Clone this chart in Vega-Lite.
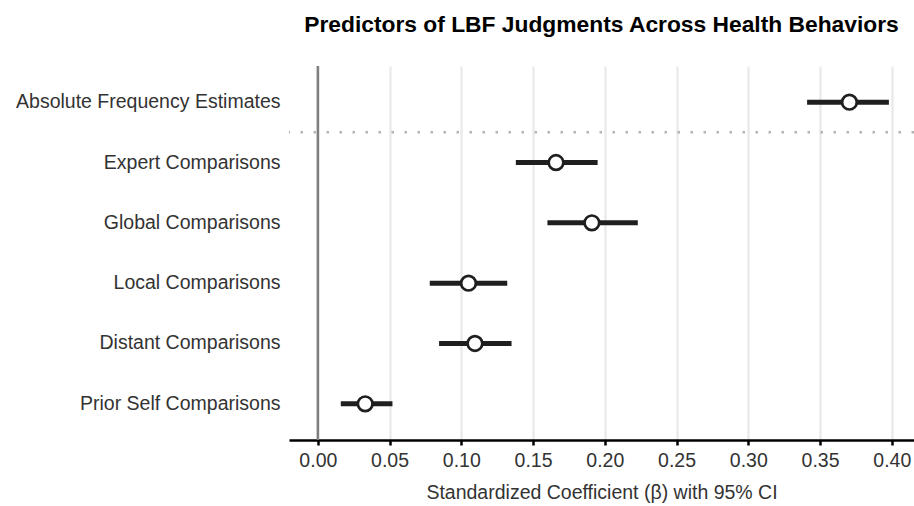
{
  "$schema": "https://vega.github.io/schema/vega-lite/v6.json",
  "autosize": {"type": "none"},
  "padding": {"left": 289, "top": 66, "right": 0, "bottom": 66},
  "width": 625,
  "height": 374,
  "background": "white",
  "config": {
    "view": {"stroke": null},
    "font": "Liberation Sans"
  },
  "title": {
    "text": "Predictors of LBF Judgments Across Health Behaviors",
    "font": "Liberation Sans",
    "fontSize": 22.8,
    "fontWeight": "bold",
    "color": "#000000",
    "anchor": "middle",
    "offset": 28
  },
  "datasets": {
    "est": [
      {"label": "Absolute Frequency Estimates", "beta": 0.3705, "lo": 0.341, "hi": 0.398},
      {"label": "Expert Comparisons", "beta": 0.166, "lo": 0.138, "hi": 0.195},
      {"label": "Global Comparisons", "beta": 0.191, "lo": 0.160, "hi": 0.223},
      {"label": "Local Comparisons", "beta": 0.105, "lo": 0.078, "hi": 0.132},
      {"label": "Distant Comparisons", "beta": 0.1095, "lo": 0.0845, "hi": 0.135},
      {"label": "Prior Self Comparisons", "beta": 0.033, "lo": 0.016, "hi": 0.052}
    ],
    "sep": [{"label": "Absolute Frequency Estimates"}],
    "zero": [{"x": 0}]
  },
  "layer": [
    {
      "data": {"name": "zero"},
      "mark": {"type": "rule", "color": "#7f7f7f", "strokeWidth": 2.5},
      "encoding": {
        "x": {
          "field": "x", "type": "quantitative",
          "scale": {"domain": [-0.0201, 0.4155], "nice": false, "zero": false},
          "axis": {
            "values": [0, 0.05, 0.1, 0.15, 0.2, 0.25, 0.3, 0.35, 0.4],
            "format": ".2f",
            "title": "Standardized Coefficient (β) with 95% CI",
            "titleFont": "Liberation Sans",
            "titleFontSize": 19.5,
            "titleFontWeight": "normal",
            "titleColor": "#333333",
            "titlePadding": 14,
            "labelFont": "Liberation Sans",
            "labelFontSize": 19.5,
            "labelColor": "#333333",
            "labelPadding": 6,
            "ticks": true,
            "tickSize": 5,
            "tickWidth": 2.5,
            "tickColor": "#000000",
            "domain": true,
            "domainColor": "#000000",
            "domainWidth": 2.5,
            "grid": true,
            "gridColor": "#ebebeb",
            "gridWidth": 2.5
          }
        }
      }
    },
    {
      "data": {"name": "sep"},
      "mark": {"type": "rule", "color": "#b3b3b3", "strokeWidth": 2.5, "strokeDash": [2.5, 10.5]},
      "encoding": {
        "y": {
          "field": "label", "type": "nominal", "bandPosition": 1
        }
      }
    },
    {
      "data": {"name": "est"},
      "mark": {"type": "rule", "color": "#1f1f1f", "strokeWidth": 5, "strokeCap": "butt"},
      "encoding": {
        "y": {
          "field": "label", "type": "nominal",
          "scale": {
            "type": "band",
            "domain": ["Absolute Frequency Estimates", "Expert Comparisons", "Global Comparisons", "Local Comparisons", "Distant Comparisons", "Prior Self Comparisons"],
            "paddingInner": 0,
            "paddingOuter": 0.1
          },
          "axis": {
            "title": null,
            "ticks": false,
            "domain": false,
            "grid": false,
            "labelFont": "Liberation Sans",
            "labelFontSize": 19.5,
            "labelColor": "#333333",
            "labelPadding": 9,
            "labelLimit": 400
          }
        },
        "x": {"field": "lo", "type": "quantitative"},
        "x2": {"field": "hi"}
      }
    },
    {
      "data": {"name": "est"},
      "mark": {"type": "point", "shape": "circle", "filled": true, "fill": "white", "stroke": "#1f1f1f", "strokeWidth": 2.7, "size": 215, "opacity": 1},
      "encoding": {
        "y": {"field": "label", "type": "nominal"},
        "x": {"field": "beta", "type": "quantitative"}
      }
    }
  ]
}
